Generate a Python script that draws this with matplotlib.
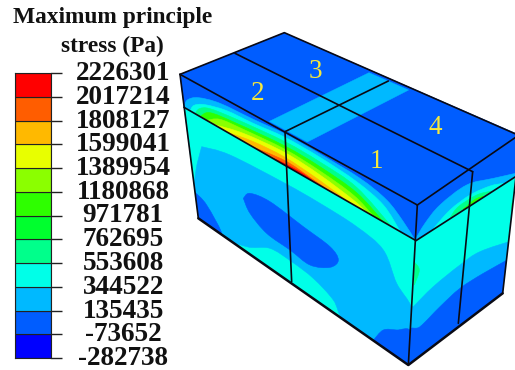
import matplotlib
matplotlib.use("Agg")
import matplotlib.pyplot as plt
from matplotlib.path import Path
from matplotlib.patches import PathPatch, Polygon
from matplotlib.transforms import ScaledTranslation

W, H = 515, 370

# ---------- legend ----------
level_values = [-282738, -73652, 135435, 344522, 553608, 762695, 971781,
                1180868, 1389954, 1599041, 1808127, 2017214, 2226301]
level_colors = ['#0000ff', '#005dff', '#00b9ff', '#00ffe8', '#00ff8b', '#00ff2e',
                '#2eff00', '#8bff00', '#e8ff00', '#ffb900', '#ff5d00', '#ff0000']
title_lines = ['Maximum principle', 'stress (Pa)']

DARK, LIGHT, CYAN, MINT, GREEN, LIME, YEL, ORG, RORG, RED = (
    '#005dff', '#00b9ff', '#00ffe8', '#00ff8b', '#2eff00', '#8bff00',
    '#e8ff00', '#ffb900', '#ff5d00', '#ff0000')

# ---------- block geometry (in units of 1/3 px, offset 170,30) ----------
top_face = [(30, 133), (343, 8), (1060, 320), (742, 525)]
rim_left = [(30, 133), (742, 525), (738, 632), (42, 232)]
rim_right = [(742, 525), (1060, 306), (1060, 425), (738, 632)]
side_left = [(42, 232), (738, 632), (715, 1005), (85, 565)]
side_right = [(738, 632), (1060, 425), (1035, 460), (998, 790), (715, 1005)]

top_band = [(298, 274), (597, 128), (716, 180), (412, 336)]

left_rim_layers = [
    (LIGHT, [(42, 232), (52, 210), (85, 203), (150, 220), (250, 268), (345, 312),
             (450, 372), (570, 445), (650, 510), (700, 575), (735, 630)]),
    (CYAN, [(60, 243), (72, 226), (105, 224), (170, 242), (250, 280), (345, 322),
            (450, 382), (560, 455), (640, 525), (690, 603)]),
    (MINT, [(75, 252), (88, 236), (120, 236), (200, 268), (345, 335), (450, 396),
            (560, 472), (665, 590)]),
    (GREEN, [(90, 260), (120, 248), (200, 280), (345, 348), (450, 410), (560, 488),
             (640, 575)]),
    (LIME, [(110, 271), (150, 268), (220, 298), (345, 358), (450, 423), (550, 495),
            (610, 558)]),
    (YEL, [(130, 283), (220, 310), (345, 368), (450, 435), (550, 510), (590, 547)]),
    (ORG, [(170, 306), (250, 335), (345, 382), (450, 452), (540, 519)]),
    (RORG, [(240, 347), (345, 392), (420, 442), (480, 484)]),
    (RED, [(300, 381), (345, 401), (400, 432), (440, 461)]),
]
right_rim_layers = [
    (LIGHT, [(735, 630), (765, 580), (810, 525), (890, 465), (970, 445), (1060, 425)]),
    (CYAN, [(790, 596), (840, 540), (900, 495), (960, 468), (1000, 460)]),
    (MINT, [(840, 563), (865, 530), (920, 495), (965, 483)]),
    (GREEN, [(880, 537), (915, 508), (940, 499)]),
]

left_light = [(95, 350), (180, 375), (345, 460), (450, 520), (560, 590), (640, 660),
              (680, 760), (724, 832), (722, 905), (680, 900), (640, 900), (610, 931),
              (520, 869), (490, 810), (430, 745), (365, 695), (300, 655), (230, 650),
              (155, 614), (110, 525), (75, 490), (78, 420), (95, 350)]
left_oval = [(220, 505), (240, 490), (300, 515), (400, 590), (480, 650), (505, 690),
             (480, 712), (420, 705), (360, 660), (290, 610), (240, 550), (220, 505)]
left_corner = [(73, 485), (110, 525), (155, 614), (85, 565), (73, 485)]
front_corner = [(610, 931), (640, 900), (680, 900), (722, 905), (715, 1005), (610, 931)]
spot_front = [(732, 695), (748, 720), (733, 765)]
spot_right = [(1040, 485), (1024, 530), (1040, 570)]

right_light_upper = [(730, 830), (790, 770), (870, 705), (930, 665), (1030, 632)]
right_dark = [(1030, 680), (940, 730), (870, 775), (810, 830), (750, 890), (715, 905)]

edges_thin = [
    [(30, 133), (343, 8), (1060, 322)],
    [(30, 133), (742, 525)],
    [(195, 70), (908, 425)],
    [(345, 305), (655, 153)],
    [(742, 525), (1060, 306)],
    [(42, 232), (738, 632), (1060, 425)],
    [(30, 133), (85, 565)],
    [(345, 305), (365, 755)],
    [(908, 425), (865, 880)],
    [(742, 525), (715, 1005)],
    [(1038, 440), (998, 790)],
]
edges_thick = [[(85, 565), (715, 1005), (998, 790)]]

face_numbers = ['1', '2', '3', '4']
number_x = [376, 258, 315, 435]
number_y = [161, 93, 72, 128]


def px(pts):
    return [(170 + x / 3, 30 + y / 3) for x, y in pts]


def smooth_path(pts):
    """Catmull-Rom curve through pts as Bezier path; closed on itself by a straight segment."""
    p = px(pts)
    n = len(p)
    verts, codes = [p[0]], [Path.MOVETO]
    for i in range(n - 1):
        p0, p1, p2, p3 = p[max(i - 1, 0)], p[i], p[i + 1], p[min(i + 2, n - 1)]
        c1 = (p1[0] + (p2[0] - p0[0]) / 6, p1[1] + (p2[1] - p0[1]) / 6)
        c2 = (p2[0] - (p3[0] - p1[0]) / 6, p2[1] - (p3[1] - p1[1]) / 6)
        verts += [c1, c2, p2]
        codes += [Path.CURVE4] * 3
    verts.append(p[0])
    codes.append(Path.CLOSEPOLY)
    return Path(verts, codes)


plt.rcParams['font.family'] = ['Liberation Serif', 'DejaVu Serif']
fig = plt.figure(figsize=(W / 100, H / 100), dpi=100, facecolor='white')
ax = fig.add_axes([0, 0, 1, 1])
ax.set_xlim(0, W)
ax.set_ylim(H, 0)
ax.axis('off')


def face(pts, color):
    poly = Polygon(px(pts), closed=True, facecolor=color, edgecolor=color, lw=0.3, zorder=1)
    ax.add_patch(poly)
    return poly


def region(pts, color, clip, z=2):
    patch = PathPatch(smooth_path(pts), facecolor=color, edgecolor=color, lw=0.4, zorder=z)
    ax.add_patch(patch)
    patch.set_clip_path(clip)
    return patch


# top
top = face(top_face, DARK)
band = Polygon(px(top_band), closed=True, facecolor=LIGHT, edgecolor=LIGHT, lw=0.3, zorder=2)
ax.add_patch(band)
band.set_clip_path(top)

# rims
rl = face(rim_left, DARK)
for col, curve in left_rim_layers:
    region(curve, col, rl)
rr = face(rim_right, DARK)
for col, curve in right_rim_layers:
    region(curve, col, rr)

# left side face
sl = face(side_left, CYAN)
region(left_light, LIGHT, sl)
region(left_oval, DARK, sl, 3)
region(left_corner, DARK, sl, 3)
region(front_corner, DARK, sl, 3)
region(spot_front, MINT, sl, 3)

# right side face
sr = face(side_right, CYAN)
upper = right_light_upper + [(1060, 632), (1060, 900), (715, 1020), (715, 830)]
region(upper, LIGHT, sr)
lower = right_dark + [(700, 1020), (1060, 1020), (1060, 680)]
region(lower, DARK, sr, 3)
region(spot_right, MINT, sr, 3)
region(spot_front, MINT, sr, 3)

# edges
for e in edges_thin:
    xs, ys = zip(*px(e))
    ax.plot(xs, ys, color='#0a0a14', lw=1.2, solid_capstyle='round', zorder=6)
for e in edges_thick:
    xs, ys = zip(*px(e))
    ax.plot(xs, ys, color='#0a0a14', lw=1.8, solid_capstyle='round', zorder=6)

for s, x, y in zip(face_numbers, number_x, number_y):
    ax.text(x, y, s, color='#f6e83c', fontsize=19.5, ha='center', va='center', zorder=7)

ax.text(112.5, 17, title_lines[0], fontsize=16.8, fontweight='bold', ha='center',
        va='center', color='#111111')
ax.text(112, 46, title_lines[1], fontsize=16.8, fontweight='bold', ha='center',
        va='center', color='#111111')

# legend colour bar
cax = fig.add_axes([15 / W, 1 - 358 / H, 36 / W, 285 / H])
n = len(level_colors)
cax.bar([0] * n, [1] * n, bottom=range(n), width=1, color=level_colors,
        edgecolor='#222222', linewidth=0.8, align='center')
cax.set_xlim(-0.5, 0.5)
cax.set_ylim(0, n)
cax.set_xticks([])
cax.yaxis.tick_right()
cax.set_yticks(range(n + 1))
cax.set_yticklabels([str(v) for v in level_values], fontsize=19.5, fontweight='bold',
                    ha='center', color='#111111')
cax.tick_params(axis='y', length=8, width=1.0, color='#222222', pad=44)
shift = ScaledTranslation(0, 2.5 / 100, fig.dpi_scale_trans)
for lab in cax.get_yticklabels():
    lab.set_transform(lab.get_transform() + shift)
for s in cax.spines.values():
    s.set_linewidth(0.8)
    s.set_color('#222222')

fig.savefig('out.png', dpi=100, facecolor='white')
